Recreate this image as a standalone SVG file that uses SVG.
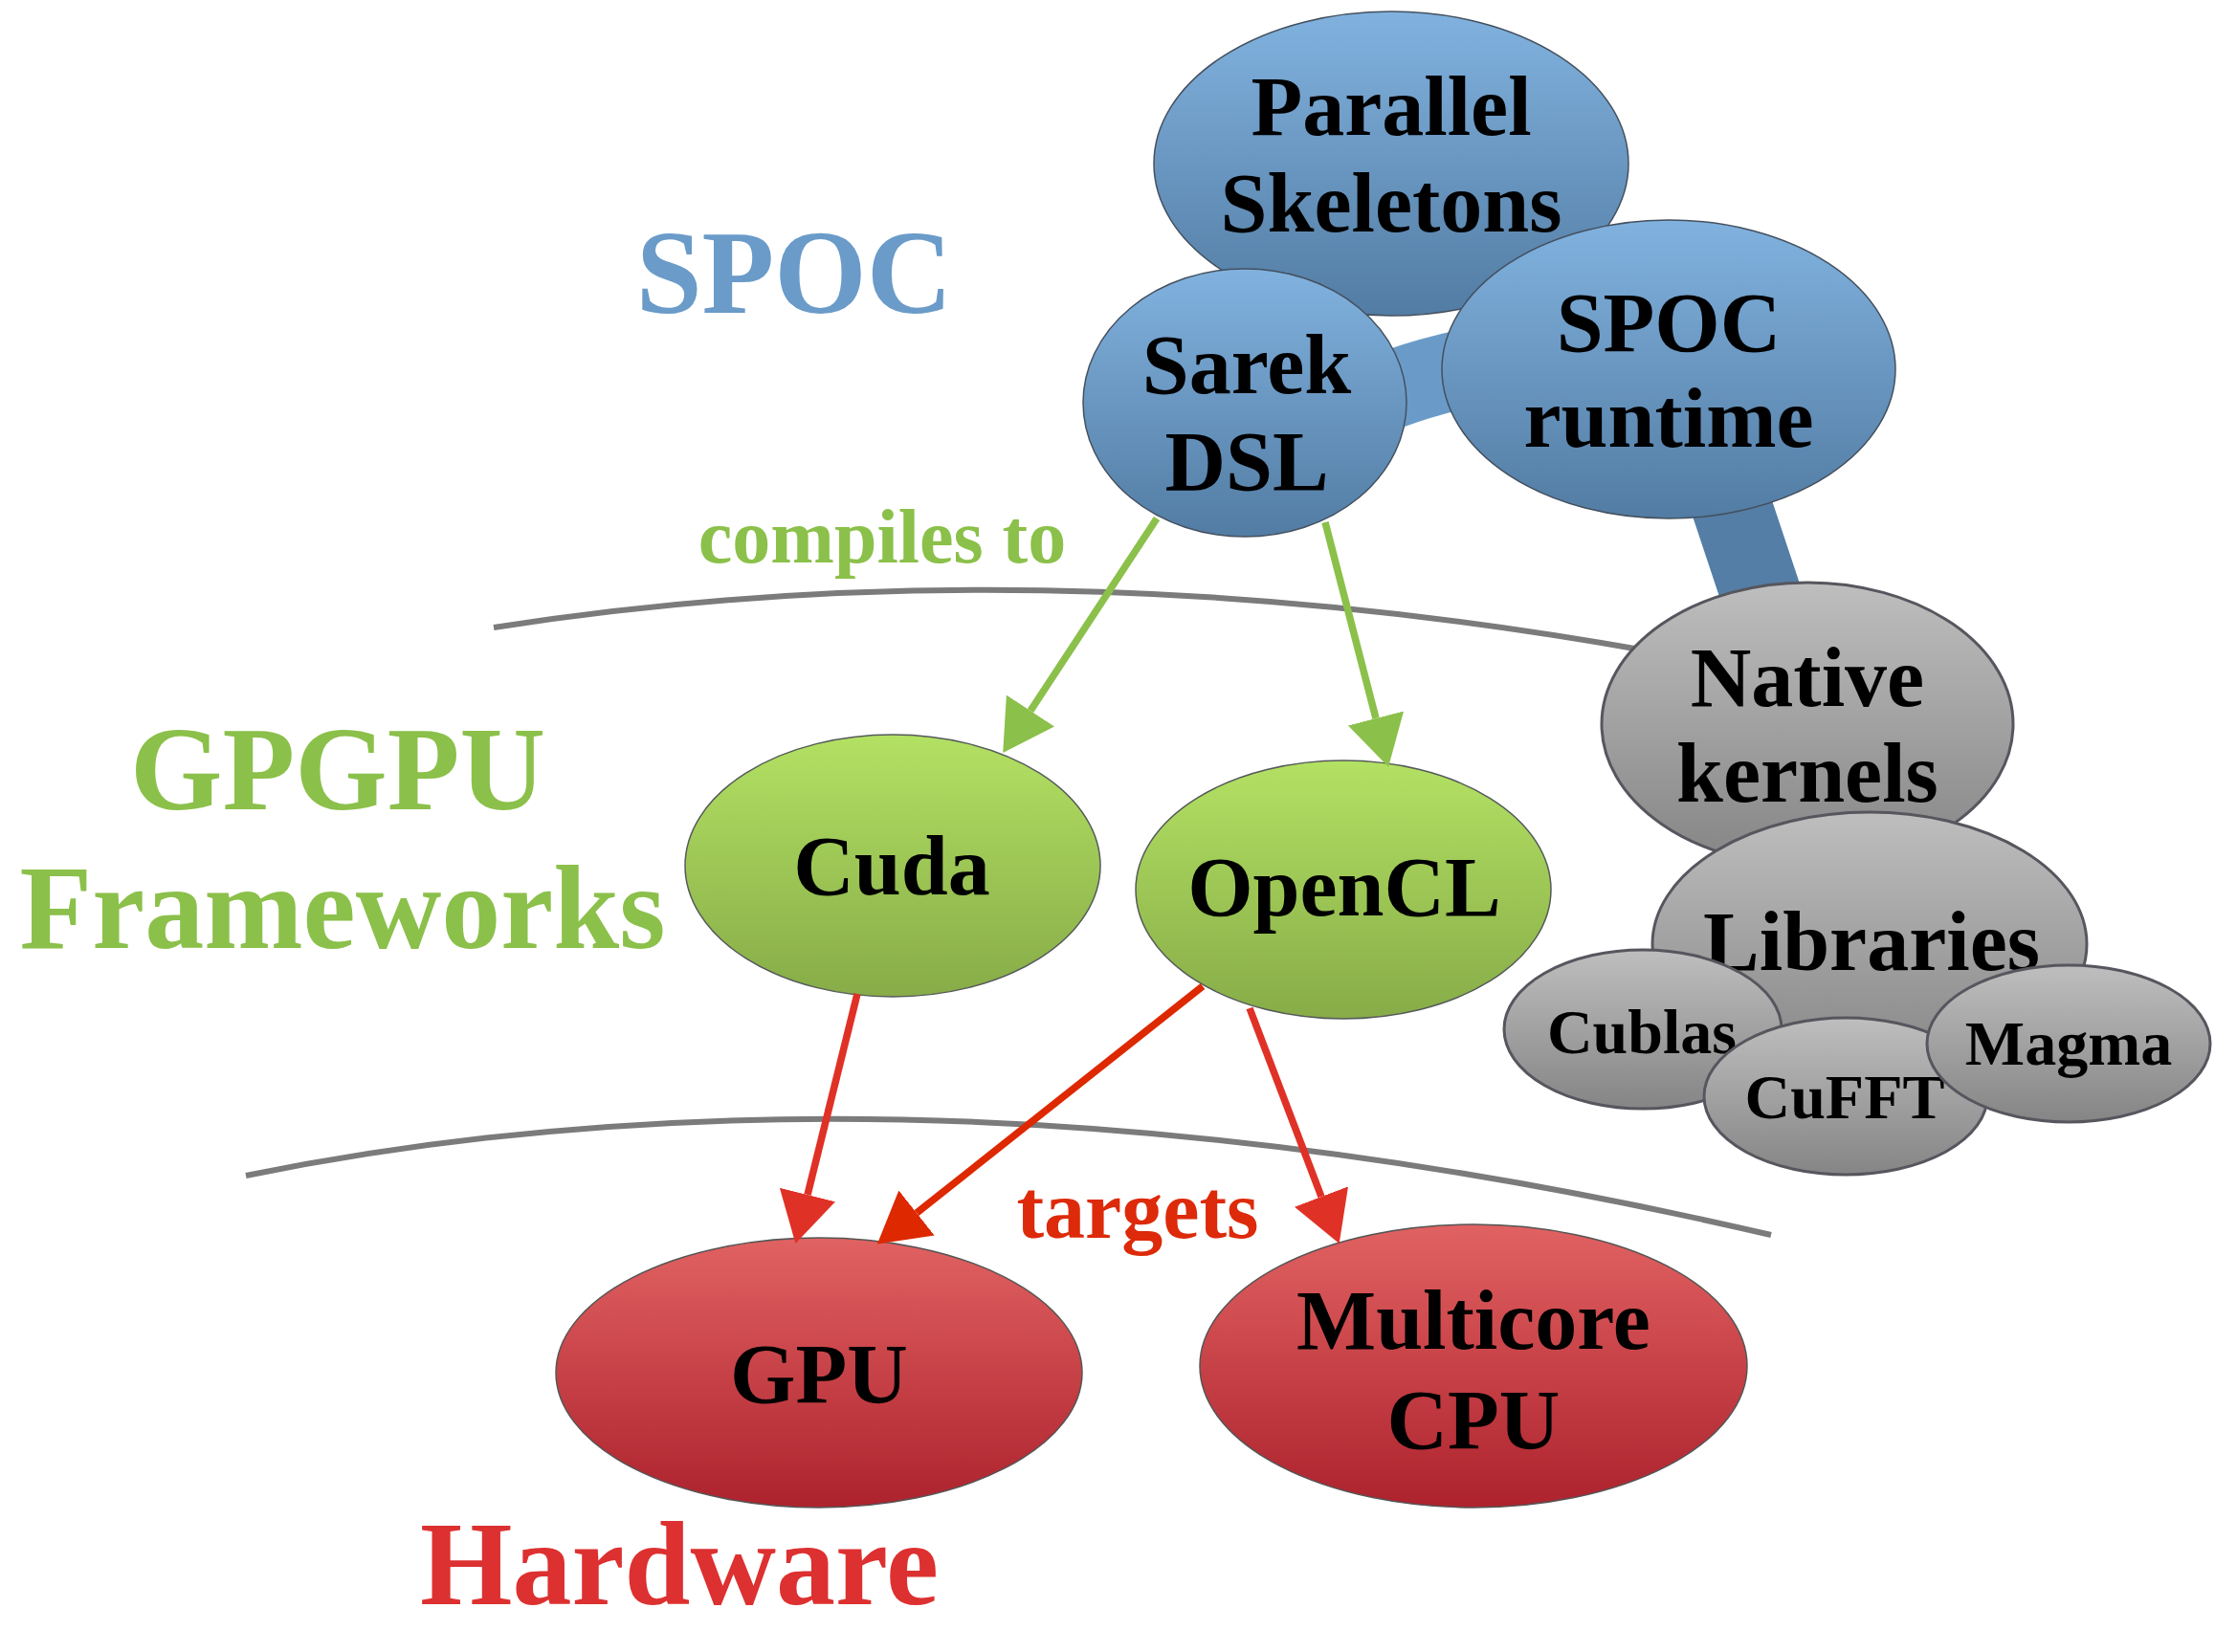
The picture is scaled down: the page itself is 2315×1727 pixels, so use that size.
<svg xmlns="http://www.w3.org/2000/svg" width="2315" height="1727" viewBox="0 0 2315 1727">
<defs>
<linearGradient id="gBlue" x1="0" y1="0" x2="0" y2="1"><stop offset="0" stop-color="#81b2df"/><stop offset="1" stop-color="#527ca3"/></linearGradient>
<linearGradient id="gGreen" x1="0" y1="0" x2="0" y2="1"><stop offset="0" stop-color="#b3e163"/><stop offset="1" stop-color="#87ac48"/></linearGradient>
<linearGradient id="gRed" x1="0" y1="0" x2="0" y2="1"><stop offset="0" stop-color="#e16262"/><stop offset="1" stop-color="#ad222d"/></linearGradient>
<linearGradient id="gGray" x1="0" y1="0" x2="0" y2="1"><stop offset="0" stop-color="#bebebe"/><stop offset="1" stop-color="#858585"/></linearGradient>
<marker id="mGreen" viewBox="0 0 7 8" refX="0" refY="4" markerWidth="7" markerHeight="8" orient="auto" markerUnits="strokeWidth"><path d="M0,0 L7,4 L0,8 z" fill="#8bc04a"/></marker>
<marker id="mRed" viewBox="0 0 7 8" refX="0" refY="4" markerWidth="7" markerHeight="8" orient="auto" markerUnits="strokeWidth"><path d="M0,0 L7,4 L0,8 z" fill="#e03127"/></marker>
<marker id="mOrange" viewBox="0 0 7 8" refX="0" refY="4" markerWidth="7" markerHeight="8" orient="auto" markerUnits="strokeWidth"><path d="M0,0 L7,4 L0,8 z" fill="#dd2800"/></marker>
</defs>
<style>
text { font-family: "Liberation Serif", "Times New Roman", serif; font-weight: bold; text-anchor: middle; }
.node { font-size: 88px; fill: #000; }
.small { font-size: 66px; fill: #000; }
.layer { font-size: 124px; }
.blue { fill: url(#gBlue); stroke: #44505e; stroke-width: 1.5; }
.green { fill: url(#gGreen); stroke: #555a5a; stroke-width: 1.5; }
.red { fill: url(#gRed); stroke: #555555; stroke-width: 1.5; }
.gray { fill: url(#gGray); stroke: #56565e; stroke-width: 3; }
.sep { fill: none; stroke: #7b7b7b; stroke-width: 6; }
.garrow { fill: none; stroke: #8bc04a; stroke-width: 7.5; }
.rarrow { fill: none; stroke: #e03127; stroke-width: 7.5; }
.oarrow { fill: none; stroke: #dd2800; stroke-width: 7.5; }
</style>
<rect width="2315" height="1727" fill="#ffffff"/>

<g id="separators">
<path class="sep" d="M516,656 Q1085,567 1720,680"/>
<path class="sep" d="M257,1229 Q965,1085 1851,1291"/>
</g>

<g id="labels">
<text class="layer" x="830" y="327" fill="#6a9bc9">SPOC</text>
<text class="layer" x="353" y="846" fill="#8bc04a">GPGPU</text>
<text class="layer" x="358" y="991" fill="#8bc04a">Frameworks</text>
<text class="layer" x="710" y="1677" fill="#dd3030">Hardware</text>
<text x="922" y="588" font-size="80" fill="#8bc04a">compiles to</text>
<text x="1189" y="1294" font-size="86" fill="#dd2a0a">targets</text>
</g>

<g id="links">
<path d="M1400,432 Q1480,388 1610,372" fill="none" stroke="#6a9bc8" stroke-width="82"/>
<path d="M1800,500 L1850,650" fill="none" stroke="#557ea6" stroke-width="84"/>
</g>

<g id="parallel-skeletons">
<ellipse class="blue" cx="1454" cy="171" rx="248" ry="159"/>
<text class="node" x="1454" y="141">Parallel</text>
<text class="node" x="1454" y="242">Skeletons</text>
</g>
<g id="spoc-runtime">
<ellipse class="blue" cx="1744" cy="386" rx="237" ry="156"/>
<text class="node" x="1744" y="367">SPOC</text>
<text class="node" x="1744" y="467">runtime</text>
</g>
<g id="sarek-dsl">
<ellipse class="blue" cx="1301" cy="421" rx="169" ry="140"/>
<text class="node" x="1303" y="411">Sarek</text>
<text class="node" x="1303" y="512">DSL</text>
</g>
<g id="native-kernels">
<ellipse class="gray" cx="1889" cy="757" rx="215" ry="148"/>
<text class="node" x="1889" y="738">Native</text>
<text class="node" x="1889" y="838">kernels</text>
</g>
<g id="libraries">
<ellipse class="gray" cx="1954" cy="987" rx="227" ry="138"/>
<text class="node" x="1956" y="1014" font-size="82">Libraries</text>
</g>
<g id="cublas">
<ellipse class="gray" cx="1717" cy="1076" rx="145" ry="83"/>
<text class="small" x="1716" y="1101">Cublas</text>
</g>
<g id="cufft">
<ellipse class="gray" cx="1929" cy="1146" rx="148" ry="82"/>
<text class="small" x="1928" y="1169">CuFFT</text>
</g>
<g id="magma">
<ellipse class="gray" cx="2162" cy="1091" rx="148" ry="82"/>
<text class="small" x="2162" y="1113">Magma</text>
</g>
<g id="cuda">
<ellipse class="green" cx="933" cy="905" rx="217" ry="137"/>
<text class="node" x="932" y="935">Cuda</text>
</g>
<g id="opencl">
<ellipse class="green" cx="1404" cy="930" rx="217" ry="135"/>
<text class="node" x="1405" y="957">OpenCL</text>
</g>
<g id="gpu">
<ellipse class="red" cx="856" cy="1435" rx="275" ry="141"/>
<text class="node" x="856" y="1466">GPU</text>
</g>
<g id="multicore-cpu">
<ellipse class="red" cx="1540" cy="1428" rx="286" ry="148"/>
<text class="node" x="1540" y="1410">Multicore</text>
<text class="node" x="1540" y="1514">CPU</text>
</g>

<g id="connectors">
<path class="garrow" d="M1209,542 L1077,743" marker-end="url(#mGreen)"/>
<path class="garrow" d="M1385,546 L1438,751" marker-end="url(#mGreen)"/>
<path class="rarrow" d="M896,1039 L844,1249" marker-end="url(#mRed)"/>
<path class="oarrow" d="M1257,1031 L958,1268" marker-end="url(#mOrange)"/>
<path class="rarrow" d="M1306,1054 L1381,1251" marker-end="url(#mRed)"/>
</g>
</svg>
